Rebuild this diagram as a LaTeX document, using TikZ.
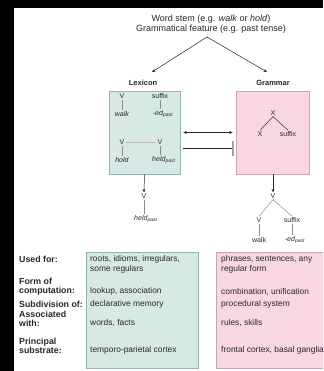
\documentclass[tikz,border=0pt]{standalone}
\usepackage{fontspec}
\setmainfont{Liberation Sans}
\usetikzlibrary{arrows.meta}
\definecolor{tealfill}{RGB}{214,233,229}
\definecolor{tealline}{RGB}{150,180,175}
\definecolor{pinkfill}{RGB}{248,215,226}
\definecolor{pinkline}{RGB}{200,165,180}
\definecolor{ink}{RGB}{40,40,40}
\definecolor{treeline}{RGB}{140,140,140}
\tikzset{
  txt/.style={font=\fontsize{7}{8}\selectfont, inner sep=1pt, text=ink},
  hdr/.style={font=\bfseries\fontsize{7.5}{9}\selectfont, inner sep=1pt, text=ink},
  rowlbl/.style={font=\bfseries\fontsize{8.8}{9}\selectfont, inner sep=0pt, anchor=west, align=left, text=ink},
  cell/.style={font=\fontsize{8.4}{9.8}\selectfont, inner sep=0pt, anchor=west, align=left, text=ink},
  lexbox/.style={draw=tealline, fill=tealfill, line width=0.6pt, inner sep=0pt},
  grambox/.style={draw=pinkline, fill=pinkfill, line width=0.6pt, inner sep=0pt},
  arr/.style={-{Stealth[length=3.5pt,width=3pt]}, draw=ink, line width=0.5pt},
  tline/.style={draw=treeline, line width=0.5pt},
  dline/.style={draw=ink, line width=0.5pt},
}
\begin{document}
\begin{tikzpicture}[x=1pt,y=-1pt]
\useasboundingbox (0,0) rectangle (323,371);
\clip (0,0) rectangle (323,371);
\fill[white] (0,0) rectangle (323,371);
\fill[black] (0,0) rectangle (14,371);
\fill[black] (0,0) rectangle (323,8);

% source text
\node[txt, align=center, font=\fontsize{9}{10}\selectfont] (src) at (211,24)
  {Word stem (e.g. \textit{walk} or \textit{hold})\\Grammatical feature (e.g. past tense)};
\coordinate (apex) at (207,37);
\coordinate (lexin) at (152,72);
\coordinate (gramin) at (267,72);
\draw[arr] (apex) -- (lexin);
\draw[arr] (apex) -- (gramin);

% headers
\node[hdr] (lexlbl) at (143,83) {Lexicon};
\node[hdr] (gramlbl) at (273,83) {Grammar};

% boxes
\node[lexbox, minimum width=71pt, minimum height=83pt] (lexb) at (144.5,132.5) {};
\node[grambox, minimum width=73pt, minimum height=83pt] (gramb) at (272.5,132.5) {};

% lexicon inner trees
\node[txt] (lv1) at (122,96) {V};
\node[txt] (lsuf) at (160,96) {suffix};
\node[txt] (lwalk) at (122,114) {\textit{walk}};
\node[txt] (led) at (163,114) {\textit{-ed}\textsubscript{\textit{past}}};
\draw[tline] (lv1) -- (lwalk);
\draw[tline] (lsuf.south) -- (lsuf.south |- led.north);
\node[txt] (lv2) at (122,142) {V};
\node[txt] (lv3) at (160,142) {V};
\node[txt] (lhold) at (122,160) {\textit{hold}};
\node[txt] (lheld) at (164,160) {\textit{held}\textsubscript{\textit{past}}};
\draw[tline] (lv2) -- (lhold);
\draw[tline] (lv3.south) -- (lv3.south |- lheld.north);
\draw[draw=treeline!60, line width=0.5pt] (lv2) -- (lv3);

% grammar inner tree
\node[txt] (gx) at (273,113) {X};
\node[txt] (gx2) at (260,134) {X};
\node[txt] (gsuf) at (288,134) {suffix};
\draw[dline] (gx.south) -- (gx2.north);
\draw[dline] (gx.south) -- (gsuf.north);

% connectors between boxes
\draw[{Stealth[length=3.5pt,width=3pt]}-{Stealth[length=3.5pt,width=3pt]}, draw=ink, line width=0.5pt]
  ([xshift=3pt]lexb.east) -- ([xshift=-3pt]gramb.west);
\draw[draw=ink, line width=0.5pt, -{Bar[width=15pt, line width=1.3pt, color=treeline!80]}]
  ([xshift=3pt,yshift=-16pt]lexb.east) -- ([xshift=-2pt,yshift=-16pt]gramb.west);

% outputs
\node[txt] (llv) at (144,196) {V};
\node[txt] (lheld2) at (146,219) {\textit{held}\textsubscript{\textit{past}}};
\draw[arr] (lexb.south) -- (llv.north);
\draw[tline] (llv.south) -- (llv.south |- lheld2.north);

\node[txt] (gv) at (273,196) {V};
\node[txt] (gv2) at (259,220) {V};
\node[txt] (gsuf2) at (292,220) {suffix};
\node[txt] (gwalk) at (259,240) {walk};
\node[txt] (ged) at (295,240) {\textit{-ed}\textsubscript{\textit{past}}};
\draw[arr] (gramb.south -| gv) -- (gv.north);
\draw[dline, draw=treeline] (gv.south) -- (gv2.north);
\draw[dline, draw=treeline] (gv.south) -- (gsuf2.north);
\draw[tline] (gv2) -- (gwalk);
\draw[tline] (gsuf2.south) -- (gsuf2.south |- ged.north);

% table
\node[lexbox, minimum width=112pt, minimum height=115.5pt] (lextab) at (142,310.25) {};
\node[grambox, minimum width=116pt, minimum height=115.5pt] (gramtab) at (274,310.25) {};

\node[rowlbl] (r1) at (19,259) {Used for:};
\node[rowlbl] (r2) at (19,287) {Form of\\computation:};
\node[rowlbl] (r3) at (19,304.5) {Subdivision of:};
\node[rowlbl] (r4) at (19,318.5) {Associated\\with:};
\node[rowlbl] (r5) at (19,345.5) {Principal\\substrate:};

\node[cell] (l1) at (90,264) {roots, idioms, irregulars,\\some regulars};
\node[cell] (l2) at (90,291.5) {lookup, association};
\node[cell] (l3) at (90,304.5) {declarative memory};
\node[cell] (l4) at (90,323) {words, facts};
\node[cell] (l5) at (90,350) {temporo-parietal cortex};

\node[cell] (g1) at (221,264) {phrases, sentences, any\\regular form};
\node[cell] (g2) at (221,291.5) {combination, unification};
\node[cell] (g3) at (221,304.5) {procedural system};
\node[cell] (g4) at (221,323) {rules, skills};
\node[cell] (g5) at (221,350) {frontal cortex, basal ganglia};
\end{tikzpicture}
\end{document}
